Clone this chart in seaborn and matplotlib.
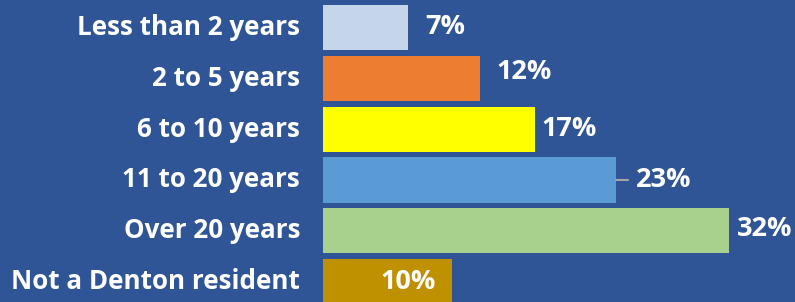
import matplotlib
matplotlib.use("Agg")
import matplotlib.pyplot as plt
import seaborn as sns
import pandas as pd

# --- data (bar lengths; labels are the rounded values) ---
categories = ["Less than 2 years", "2 to 5 years", "6 to 10 years",
              "11 to 20 years", "Over 20 years", "Not a Denton resident"]
values = [6.7, 12.4, 16.7, 23.1, 32.0, 10.2]
labels = ["7%", "12%", "17%", "23%", "32%", "10%"]
colors = ["#C5D5EA", "#ED7D31", "#FFFF00", "#5B9BD5", "#A9D18E", "#BF9000"]

BG = "#2F5597"

df = pd.DataFrame({"cat": categories, "val": values})

sns.set_style("white")
plt.rcParams["font.family"] = ["Open Sans", "DejaVu Sans"]

fig = plt.figure(figsize=(7.95, 3.02), dpi=100, facecolor=BG)
ax = fig.add_axes([323 / 795, 0, 1 - 323 / 795, 1])
ax.set_facecolor(BG)

sns.barplot(data=df, x="val", y="cat", hue="cat", palette=colors,
            legend=False, width=0.886, ax=ax, saturation=1, linewidth=0)

ax.set_xlim(0, 37.2)
ax.set_ylim(5.4, -0.54)
ax.set_xlabel("")
ax.set_ylabel("")
ax.set_xticks([])
ax.set_yticks([])
for s in ax.spines.values():
    s.set_visible(False)

# category labels on the left
for i, c in enumerate(categories):
    ax.annotate(c, xy=(0, i), xytext=(-23, 0), textcoords="offset pixels",
                ha="right", va="center", color="white", fontsize=18.7,
                fontweight="bold", annotation_clip=False)

# value labels (offsets in pixels from the bar end, as in the original)
offsets = [(17, 0, "left"), (16, 6, "left"), (7, 0, "left"),
           (20, 0, "left"), (8, 2, "left"), (-17, 0, "right")]
for i, (v, lab) in enumerate(zip(values, labels)):
    dx, dy, ha = offsets[i]
    ax.annotate(lab, xy=(v, i), xytext=(dx, dy), textcoords="offset pixels",
                ha=ha, va="center", color="white", fontsize=19.5,
                fontweight="bold", annotation_clip=False)

# leader line for the 23% label
ax.annotate("", xy=(values[3], 3), xytext=(12, 0), textcoords="offset pixels",
            arrowprops=dict(arrowstyle="-", color="#A6A6A6", lw=1.5,
                            shrinkA=0, shrinkB=0),
            annotation_clip=False)

fig.savefig("out.png", dpi=100, facecolor=BG)
